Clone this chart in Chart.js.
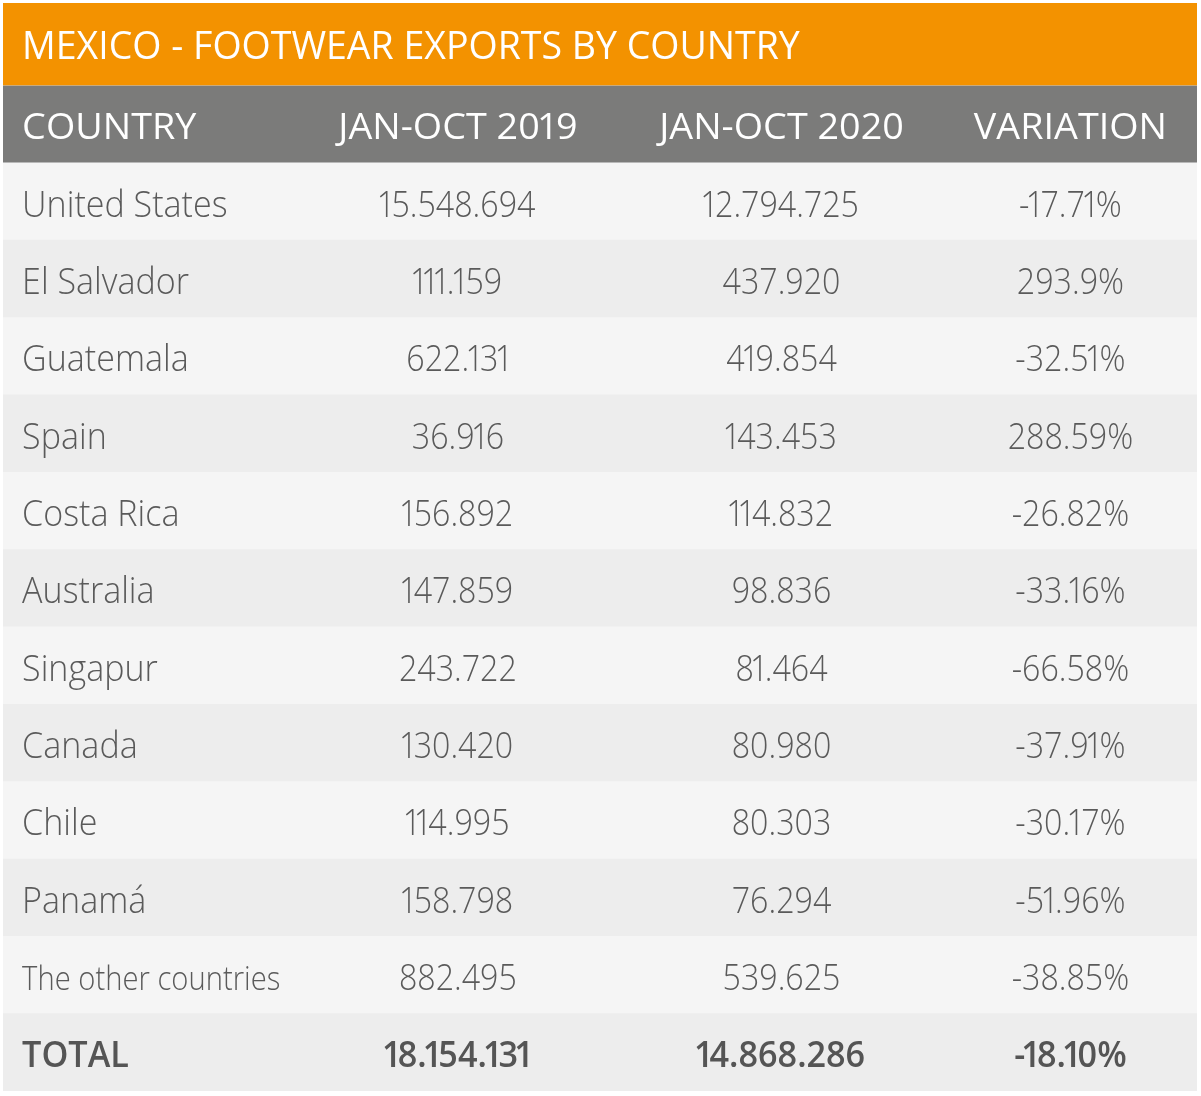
<!DOCTYPE html>
<html>
<head>
<meta charset="utf-8">
<title>Mexico - Footwear exports by country</title>
<script src="https://cdn.jsdelivr.net/npm/chart.js@4"></script>
<style>
  html, body { margin: 0; padding: 0; background: #fff; }
</style>
</head>
<body>
<canvas id="exportsTable" width="1201" height="1096"></canvas>
<script>
// Table data
const titleText = 'MEXICO - FOOTWEAR EXPORTS BY COUNTRY';
const headers = ['COUNTRY', 'JAN-OCT 2019', 'JAN-OCT 2020', 'VARIATION'];
const countries = ['United States', 'El Salvador', 'Guatemala', 'Spain', 'Costa Rica', 'Australia', 'Singapur', 'Canada', 'Chile', 'Panamá', 'The other countries'];
const exports2019 = ['15.548.694', '111.159', '622.131', '36.916', '156.892', '147.859', '243.722', '130.420', '114.995', '158.798', '882.495'];
const exports2020 = ['12.794.725', '437.920', '419.854', '143.453', '114.832', '98.836', '81.464', '80.980', '80.303', '76.294', '539.625'];
const variation = ['-17.71%', '293.9%', '-32.51%', '288.59%', '-26.82%', '-33.16%', '-66.58%', '-37.91%', '-30.17%', '-51.96%', '-38.85%'];
const totalRow = ['TOTAL', '18.154.131', '14.868.286', '-18.10%'];

const rowLabels = ['HEADER', ...countries, 'TOTAL'];

const FONT = '"Open Sans", sans-serif';
const colX = [1.6, 38.1, 65.2, 89.4];   // percent of table width
const colAlign = ['left', 'center', 'center', 'center'];

function rowCells(i) {
  if (i === 0) return headers;
  if (i === rowLabels.length - 1) return totalRow;
  const k = i - 1;
  return [countries[k], exports2019[k], exports2020[k], variation[k]];
}

// font, colour and horizontal squeeze for a cell (the original face is narrower than Open Sans)
function cellStyle(i, c) {
  const label = rowLabels[i];
  if (i === 0) return { color: '#ffffff', font: '400 37px ' + FONT, sx: 1.02, one: 0.75 };
  if (label === 'TOTAL') return { color: '#555555', font: '600 36px ' + FONT, sx: c === 0 ? 0.95 : 0.95, one: 0.6 };
  if (c === 0) {
    if (label === 'The other countries') return { color: '#5a5a5a', font: '300 33px ' + FONT, sx: 0.885, one: 1 };
    return { color: '#5a5a5a', font: '300 37px ' + FONT, sx: 0.92, one: 1 };
  }
  return { color: '#5a5a5a', font: '300 37px ' + FONT, sx: 0.87, one: 0.6 };
}

// draws text; the digit 1 gets a narrower advance (proportional figures)
function drawCell(ctx, txt, px, py, align, st) {
  ctx.save();
  ctx.translate(px, py);
  ctx.scale(st.sx, 1);
  ctx.font = st.font;
  ctx.fillStyle = st.color;
  ctx.textBaseline = 'alphabetic';
  if (st.one === 1 || txt.indexOf('1') < 0) {
    ctx.textAlign = align;
    ctx.fillText(txt, 0, 0);
  } else {
    ctx.textAlign = 'left';
    const chars = [...txt];
    const w = chars.map(ch => ctx.measureText(ch).width);
    const adv = chars.map((ch, k) => ch === '1' ? w[k] * st.one : w[k]);
    const total = adv.reduce((a, b) => a + b, 0);
    let cx = align === 'center' ? -total / 2 : (align === 'right' ? -total : 0);
    chars.forEach((ch, k) => {
      ctx.fillText(ch, cx - (w[k] - adv[k]) / 2, 0);
      cx += adv[k];
    });
  }
  ctx.restore();
}

// orange band behind the title, title text moved in from the edge
const titleBand = {
  id: 'titleBand',
  afterLayout(chart) {
    chart.titleBlock.left = chart.chartArea.left + 19;
  },
  beforeDraw(chart) {
    const { ctx, chartArea, titleBlock } = chart;
    ctx.save();
    ctx.fillStyle = '#f39200';
    ctx.fillRect(chartArea.left, titleBlock.top, chartArea.right - chartArea.left, titleBlock.bottom - titleBlock.top);
    ctx.restore();
  }
};

// cell texts placed with the chart scales
const cellText = {
  id: 'cellText',
  afterDatasetsDraw(chart) {
    const { ctx, scales: { x, y } } = chart;
    rowLabels.forEach((label, i) => {
      const py = y.getPixelForValue(i) + 15;
      rowCells(i).forEach((txt, c) => {
        drawCell(ctx, txt, x.getPixelForValue(colX[c]), py, colAlign[c], cellStyle(i, c));
      });
    });
  }
};

const rowColors = rowLabels.map((r, i) => i === 0 ? '#7b7b7a' : (i % 2 === 1 ? '#f5f5f5' : '#ededed'));

new Chart(document.getElementById('exportsTable'), {
  type: 'bar',
  data: {
    labels: rowLabels,
    datasets: [{
      data: rowLabels.map(() => [0, 100]),
      backgroundColor: rowColors,
      borderWidth: 0,
      barPercentage: 1,
      categoryPercentage: 1
    }]
  },
  options: {
    indexAxis: 'y',
    responsive: false,
    animation: false,
    layout: { padding: { left: 3, right: 4, top: 3, bottom: 5 } },
    scales: {
      x: { type: 'linear', min: 0, max: 100, display: false },
      y: { display: false }
    },
    plugins: {
      legend: { display: false },
      tooltip: { enabled: false },
      title: {
        display: true,
        text: titleText,
        align: 'start',
        color: '#ffffff',
        font: { family: FONT, size: 37.5, weight: 400, lineHeight: 1 },
        padding: { top: 27, bottom: 18 }
      }
    }
  },
  plugins: [titleBand, cellText]
});
</script>
</body>
</html>
